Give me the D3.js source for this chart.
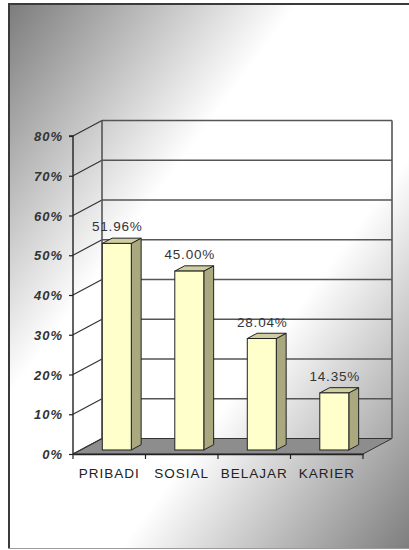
<!DOCTYPE html>
<html>
<head>
<meta charset="utf-8">
<script src="https://cdn.jsdelivr.net/npm/d3@7"></script>
<style>
html,body{margin:0;padding:0;background:#fff;}
svg{display:block;}
text{font-family:"Liberation Sans",Arial,sans-serif;}
</style>
</head>
<body>
<svg id="chart" width="409" height="550"></svg>
<script>
const categories = ["PRIBADI", "SOSIAL", "BELAJAR", "KARIER"];
const values = [51.96, 45.00, 28.04, 14.35];
const valueLabels = ["51.96%", "45.00%", "28.04%", "14.35%"];
const yTicks = [0, 10, 20, 30, 40, 50, 60, 70, 80];
const yTickLabels = ["0%", "10%", "20%", "30%", "40%", "50%", "60%", "70%", "80%"];

const svg = d3.select("#chart");
const W = 409, H = 550;

// background gradient
const defs = svg.append("defs");
const grad = defs.append("linearGradient").attr("id", "bg")
  .attr("x1", 0).attr("y1", 0).attr("x2", 1).attr("y2", 1);
grad.append("stop").attr("offset", "0").attr("stop-color", "#7c7c7c");
grad.append("stop").attr("offset", "0.36").attr("stop-color", "#ffffff");
grad.append("stop").attr("offset", "0.64").attr("stop-color", "#ffffff");
grad.append("stop").attr("offset", "1").attr("stop-color", "#7e7e7e");

svg.append("rect").attr("x", 9).attr("y", 4).attr("width", W - 9).attr("height", 544)
  .attr("fill", "url(#bg)");
// frame lines
svg.append("line").attr("x1", 8).attr("x2", W).attr("y1", 4).attr("y2", 4)
  .attr("stroke", "#3a3a3a").attr("stroke-width", 2);
svg.append("line").attr("x1", 9).attr("x2", 9).attr("y1", 3).attr("y2", 548)
  .attr("stroke", "#3a3a3a").attr("stroke-width", 2);
svg.append("line").attr("x1", 8).attr("x2", W).attr("y1", 548.5).attr("y2", 548.5)
  .attr("stroke", "#9a9a9a").attr("stroke-width", 1);

// scales
const y = d3.scaleLinear().domain([0, 80]).range([454, 136]);
const x = d3.scaleBand().domain(categories).range([73, 363]).padding(0);
const DX = 29, DY = -15.5;
const x0 = 73, x1 = 363;
const gridColor = "#555";

// floor
const floor = [[x0, y(0)], [x1, y(0)], [x1 + DX, y(0) + DY], [x0 + DX, y(0) + DY]];
svg.append("polygon").attr("points", floor.map(p => p.join(",")).join(" "))
  .attr("fill", "#8d8d8d").attr("stroke", "#333").attr("stroke-width", 1);

// back wall gridlines & left wall diagonals
const g = svg.append("g");
yTicks.forEach(t => {
  if (t > 0) {
    g.append("line").attr("x1", x0 + DX).attr("x2", x1 + DX)
      .attr("y1", y(t) + DY).attr("y2", y(t) + DY)
      .attr("stroke", gridColor).attr("stroke-width", 1.6);
  }
  g.append("line").attr("x1", x0).attr("x2", x0 + DX)
    .attr("y1", y(t)).attr("y2", y(t) + DY)
    .attr("stroke", "#333").attr("stroke-width", 1.2);
});
// back wall vertical edges
[x0 + DX, x1 + DX].forEach(xx => {
  g.append("line").attr("x1", xx).attr("x2", xx)
    .attr("y1", y(80) + DY).attr("y2", y(0) + DY)
    .attr("stroke", gridColor).attr("stroke-width", 1.6);
});

// front y axis
const yAxis = d3.axisLeft(y).tickValues(yTicks).tickSize(4).tickFormat((d, i) => yTickLabels[i]);
const ya = svg.append("g").attr("transform", `translate(${x0},0)`).call(yAxis);
ya.select(".domain").attr("stroke", "#222").attr("stroke-width", 1.4).attr("d", `M-4,${y(80)}H0V${y(0)}`);
ya.selectAll(".tick line").attr("stroke", "#222").attr("stroke-width", 1.2);
ya.selectAll(".tick text").attr("x", -10).attr("fill", "#333")
  .style("font-size", "13px").style("font-style", "italic").style("font-weight", "bold")
  .style("letter-spacing", "1px").attr("dy", "0.36em");

// front x axis
const xa = svg.append("g").attr("transform", `translate(0,${y(0)})`)
  .call(d3.axisBottom(x).tickSize(0).tickPadding(14));
xa.select(".domain").attr("stroke", "#222").attr("stroke-width", 1.4);
xa.selectAll(".tick text").attr("fill", "#222").style("font-size", "13.5px")
  .style("letter-spacing", "1px").attr("dy", "0.71em");
// band boundary ticks
const bounds = categories.map(c => x(c)).concat([x1]);
xa.selectAll(".btick").data(bounds).enter().append("line")
  .attr("x1", d => d).attr("x2", d => d).attr("y1", 0).attr("y2", 5)
  .attr("stroke", "#222").attr("stroke-width", 1.2);

// bars
const f1 = 0.26, f2 = 0.60;
const bw = x.bandwidth() * 0.4;
const ddx = (f2 - f1) * DX, ddy = (f2 - f1) * DY;
const bars = svg.append("g");
categories.forEach((c, i) => {
  const cx = x(c) + x.bandwidth() / 2 + f1 * DX;
  const bx0 = cx - bw / 2, bx1 = cx + bw / 2;
  const yt = y(values[i]) + f1 * DY, yb = y(0) + f1 * DY;
  const pts = a => a.map(p => p.join(",")).join(" ");
  bars.append("polygon")
    .attr("points", pts([[bx1, yt], [bx1 + ddx, yt + ddy], [bx1 + ddx, yb + ddy], [bx1, yb]]))
    .attr("fill", "#a9a87f").attr("stroke", "#222").attr("stroke-width", 1).attr("stroke-linejoin", "round");
  bars.append("polygon")
    .attr("points", pts([[bx0, yt], [bx1, yt], [bx1 + ddx, yt + ddy], [bx0 + ddx, yt + ddy]]))
    .attr("fill", "#cfcea2").attr("stroke", "#222").attr("stroke-width", 1).attr("stroke-linejoin", "round");
  bars.append("rect").attr("x", bx0).attr("y", yt).attr("width", bw).attr("height", yb - yt)
    .attr("fill", "#ffffcc").attr("stroke", "#222").attr("stroke-width", 1);
  bars.append("text").attr("x", cx + 0.5).attr("y", yt - 12)
    .attr("text-anchor", "middle").attr("fill", "#333")
    .style("font-size", "13.5px").style("letter-spacing", "0.8px")
    .text(valueLabels[i]);
});
</script>
</body>
</html>
